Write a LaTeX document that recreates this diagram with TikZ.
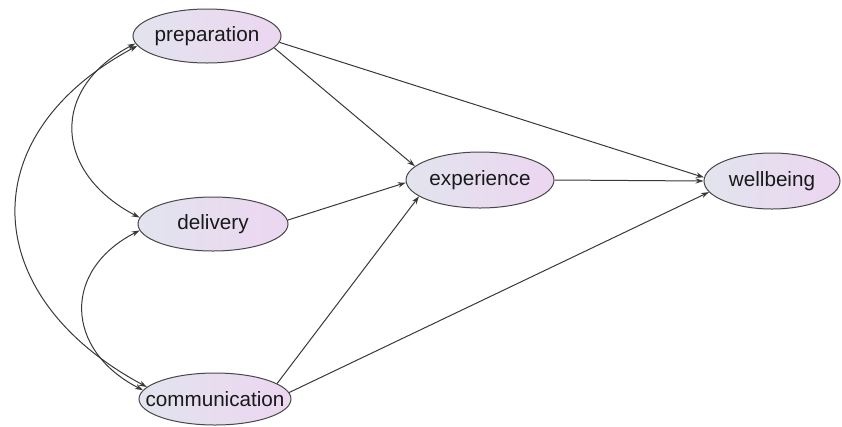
\documentclass[tikz,border=0pt]{standalone}
\usepackage{fontspec}
\setmainfont{Liberation Sans}
\usetikzlibrary{arrows.meta, shapes.geometric}

\definecolor{leftfill}{RGB}{226,228,238}
\definecolor{rightfill}{RGB}{236,214,240}
\newcommand{\varname}[1]{\makebox[0pt]{#1}}

\begin{document}
\begin{tikzpicture}[x=0.75pt,y=0.75pt,yscale=-1,xscale=1,
  latent/.style={ellipse, draw=black!72, line width=0.75pt, left color=leftfill, right color=rightfill, inner sep=0pt, text=black!90, font=\fontsize{15.5}{18}\selectfont},
  effect/.style={draw=black!78, line width=0.75pt, -{Stealth[length=6pt,width=4pt]}},
  covar/.style={draw=black!78, line width=0.75pt, {Stealth[length=6pt,width=4pt]}-{Stealth[length=6pt,width=4pt]}}]
\useasboundingbox (0,0) rectangle (842,426);

% Nodes
\node [latent, minimum width=111pt, minimum height=40.5pt] (prep) at (207,36) {\varname{preparation}};
\node [latent, minimum width=112.5pt, minimum height=40.5pt] (deliv) at (213,224) {\varname{delivery}};
\node [latent, minimum width=114pt, minimum height=39pt] (comm) at (215,399) {\varname{communication}};
\node [latent, minimum width=111pt, minimum height=42pt] (exper) at (480,180) {\varname{experience}};
\node [latent, minimum width=102pt, minimum height=42pt] (well) at (772,181) {\varname{wellbeing}};

% Straight Lines
\draw [effect] (prep.-10) -- (exper.168);
\draw [effect] (prep.-5) -- (well.177);
\draw [effect] (deliv.3) -- (exper.182);
\draw [effect] (comm.14) -- (exper.195);
\draw [effect] (comm.5) -- (well.190);
\draw [effect] (exper.0) -- (well.180);

% Curves
\draw [covar] (prep.186) .. controls +(-86,45) and +(-86,-45) .. (deliv.175);
\draw [covar] (deliv.185) .. controls +(-78,40) and +(-78,-40) .. (comm.173);
\draw [covar] (prep.188) .. controls +(-168,90) and +(-168,-90) .. (comm.170);

\end{tikzpicture}
\end{document}
